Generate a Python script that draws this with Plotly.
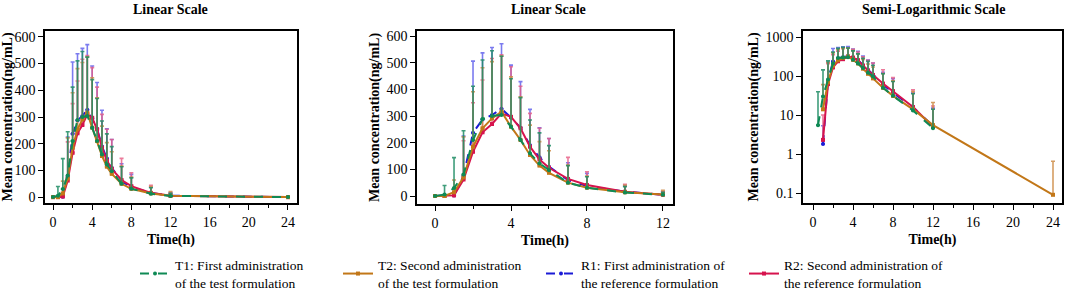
import plotly.graph_objects as go

# ---------------- data ----------------
time_h = [0, 0.5, 1, 1.5, 2, 2.5, 3, 3.5, 4, 4.5, 5, 5.5, 6, 7, 8, 10, 12, 24]

series_names = [
    "T1: First administration<br>of the test formulation",
    "T2: Second administration<br>of the test formulation",
    "R1: First administration of<br>the reference formulation",
    "R2: Second administration of<br>the reference formulation",
]

t1_mean = [0, 5.5, 30, 81, 210, 289, 300, 304, 260, 210, 160, 122, 97, 50, 31, 13, 4.6, 0]
t1_sd   = [0, 34, 114, 164, 202, 221, 245, 220, 180, 159, 125, 115, 92, 64, 41, 22, 9.4, 0]

t2_mean = [0, 0, 14, 70, 185, 254, 291, 316, 260, 210, 154, 114, 87, 50, 31, 14, 5.5, 0.09]
t2_sd   = [0, 0, 46, 152, 206, 227, 213, 209, 187, 162, 112, 90, 83, 66, 44, 26, 15.5, 0.56]

r1_mean = [0, 0, 1.8, 75, 237, 287, 304, 327, 294, 256, 190, 145, 110, 60, 37, 16, 5.2, 0]
r1_sd   = [0, 0, 3.5, 150, 269, 250, 253, 244, 197, 173, 135, 111, 106, 65, 48, 21, 9.8, 0]

r2_mean = [0, 0, 2.3, 62, 166, 239, 270, 310, 297, 254, 185, 137, 106, 64, 41, 16, 5.0, 0]
r2_sd   = [0, 0, 7.7, 145, 184, 196, 246, 220, 188, 158, 125, 117, 110, 81, 50, 28, 12, 0]

means = [t1_mean, t2_mean, r1_mean, r2_mean]
sds = [t1_sd, t2_sd, r1_sd, r2_sd]

line_colors = ["#0f8a55", "#c27718", "#1b1bd6", "#d6134d"]
err_colors = ["rgba(30,140,100,0.85)", "rgba(205,140,70,0.85)", "rgba(90,90,235,0.8)", "rgba(230,90,130,0.8)"]
dashes = ["dash", "solid", "dash", "solid"]
symbols = ["circle", "square", "circle", "square"]
draw_order = [2, 3, 1, 0]

panel_titles = ["Linear Scale", "Linear Scale", "Semi-Logarithmic Scale"]
x_max = [24, 12, 24]

# ---------------- figure ----------------
W, H = 1065, 291
fig = go.Figure()

def px_x(p):
    return p / W

def px_y(p):
    return 1 - p / H

boxes = [(45, 297, 31, 203), (417, 673, 31, 204), (803, 1062, 31, 203)]
xranges = [[-0.82, 24.92], [-0.95, 12.53], [-1.0, 24.9]]
yranges = [[-22, 622], [-30, 619], [-1.256, 3.154]]

FONT = "Liberation Serif, Times New Roman, DejaVu Serif, serif"

for p in range(3):
    xa = "x" if p == 0 else f"x{p+1}"
    ya = "y" if p == 0 else f"y{p+1}"
    for i in draw_order:
        xs, ys, es = [], [], []
        for t, m, s in zip(time_h, means[i], sds[i]):
            if t > x_max[p]:
                continue
            if p == 2 and m <= 0:
                xs.append(t); ys.append(None); es.append(0)
                continue
            xs.append(t); ys.append(m); es.append(s)
        fig.add_trace(go.Scatter(
            x=xs, y=ys, xaxis=xa, yaxis=ya,
            mode="lines+markers",
            name=series_names[i],
            legendrank=i,
            showlegend=(p == 0),
            connectgaps=False,
            line=dict(color=line_colors[i], width=2, dash=dashes[i]),
            marker=dict(color=line_colors[i], size=4, symbol=symbols[i]),
            error_y=dict(type="data", symmetric=False, array=es,
                         arrayminus=[0] * len(es), color=err_colors[i],
                         thickness=1.6, width=2),
        ))

axis_common = dict(
    showline=True, linecolor="black", linewidth=1.6, mirror=True,
    ticks="outside", ticklen=5, tickwidth=1.2, tickcolor="black",
    showgrid=False, zeroline=False, automargin=False,
    tickfont=dict(family=FONT, size=14, color="black"),
)

layout_axes = {}
for p in range(3):
    x0, x1, y0, y1 = boxes[p]
    xk = "xaxis" if p == 0 else f"xaxis{p+1}"
    yk = "yaxis" if p == 0 else f"yaxis{p+1}"
    layout_axes[xk] = dict(
        axis_common, domain=[px_x(x0), px_x(x1)], range=xranges[p],
        anchor="y" if p == 0 else f"y{p+1}",
        tickmode="linear", tick0=0, dtick=4,
        minor=dict(ticks="outside", ticklen=3, tickcolor="black", dtick=2, tick0=0),
        title=dict(text="<b>Time(h)</b>", font=dict(family=FONT, size=14, color="black"), standoff=6),
    )
    ydict = dict(
        axis_common, domain=[px_y(y1), px_y(y0)], range=yranges[p],
        anchor="x" if p == 0 else f"x{p+1}",
        title=dict(text="<b>Mean concentration(ng/mL)</b>", font=dict(family=FONT, size=14, color="black"), standoff=4),
    )
    if p == 2:
        ydict.update(type="log", tickvals=[0.1, 1, 10, 100, 1000], ticktext=["0.1", "1", "10", "100", "1000"])
    else:
        ydict.update(tickmode="linear", tick0=0, dtick=100)
    layout_axes[yk] = ydict

fig.update_layout(**layout_axes)

annotations = []
for p in range(3):
    cx = [170, 548, 933][p]
    annotations.append(dict(
        text=f"<b>{panel_titles[p]}</b>", x=px_x(cx), y=px_y(9), xref="paper", yref="paper",
        showarrow=False, xanchor="center", yanchor="middle",
        font=dict(family=FONT, size=14, color="black"),
    ))

fig.update_layout(
    width=W, height=H,
    margin=dict(l=0, r=0, t=0, b=0, autoexpand=False),
    paper_bgcolor="white", plot_bgcolor="white",
    font=dict(family=FONT, color="black"),
    annotations=annotations,
    showlegend=True,
    legend=dict(
        orientation="h", x=px_x(135), y=px_y(274), xanchor="left", yanchor="middle",
        font=dict(family=FONT, size=13.5, color="black"),
        entrywidth=158, entrywidthmode="pixels", itemwidth=30,
        traceorder="normal", bgcolor="rgba(0,0,0,0)",
    ),
)

fig.write_html(
    "out.html",
    config={"displayModeBar": False},
    post_script="document.body.style.margin='0';document.body.style.overflow='hidden';",
)
